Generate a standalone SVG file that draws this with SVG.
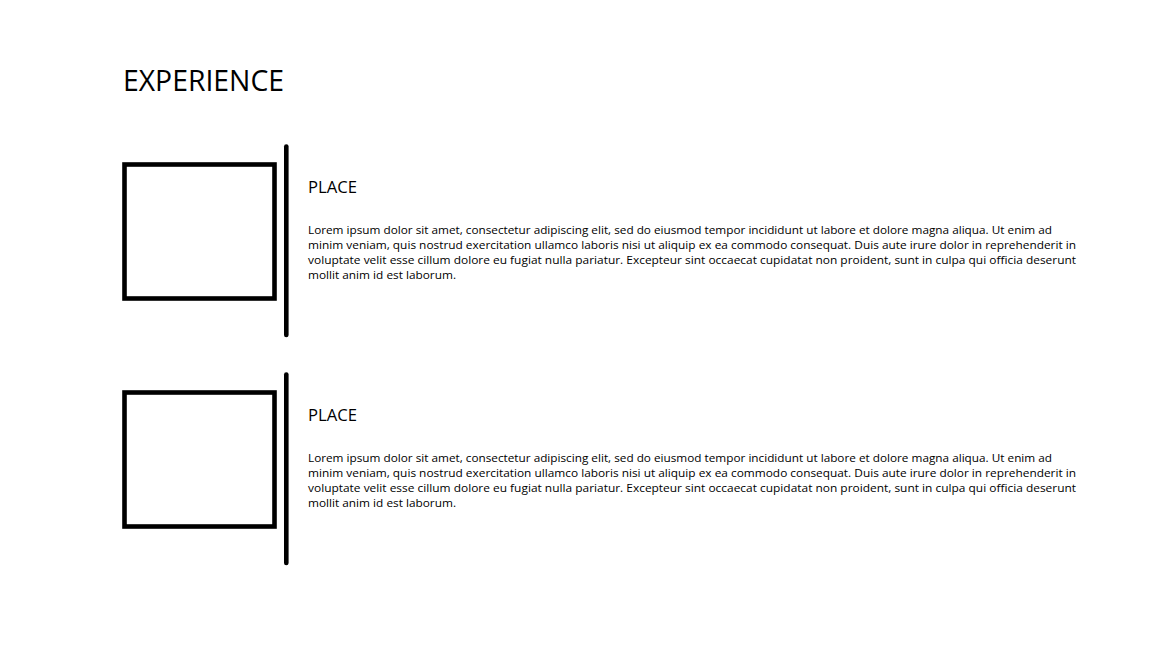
<svg xmlns="http://www.w3.org/2000/svg" width="1158" height="662" viewBox="0 0 1158 662">
<style>
.box{fill:none;stroke:#000;stroke-width:4.6}
.bar{stroke:#000;stroke-width:4.6;stroke-linecap:round}
.title{font-family:"Open Sans","Noto Sans",sans-serif;font-size:29.5px;fill:#000}
.place{font-family:"Open Sans","Noto Sans",sans-serif;font-size:16.8px;fill:#000}
.body{font-family:"Open Sans","Noto Sans",sans-serif;font-size:10.4px;fill:#000}
</style>
<rect width="1158" height="662" fill="#fff"/>
<text id="title" class="title" x="123" y="91" textLength="161" lengthAdjust="spacingAndGlyphs">EXPERIENCE</text>
<g id="entry1">
<rect class="box" x="124.5" y="164.5" width="150" height="134"/>
<text class="place" x="308" y="192.7" textLength="49" lengthAdjust="spacingAndGlyphs">PLACE</text>
<text class="body" x="308" y="233.7" textLength="744" lengthAdjust="spacingAndGlyphs">Lorem ipsum dolor sit amet, consectetur adipiscing elit, sed do eiusmod tempor incididunt ut labore et dolore magna aliqua. Ut enim ad</text>
<text class="body" x="308" y="248.7" textLength="768" lengthAdjust="spacingAndGlyphs">minim veniam, quis nostrud exercitation ullamco laboris nisi ut aliquip ex ea commodo consequat. Duis aute irure dolor in reprehenderit in</text>
<text class="body" x="308" y="263.7" textLength="768" lengthAdjust="spacingAndGlyphs">voluptate velit esse cillum dolore eu fugiat nulla pariatur. Excepteur sint occaecat cupidatat non proident, sunt in culpa qui officia deserunt</text>
<text class="body" x="308" y="278.7" textLength="148" lengthAdjust="spacingAndGlyphs">mollit anim id est laborum.</text>
</g>
<g id="entry2">
<rect class="box" x="124.5" y="392.5" width="150" height="134"/>
<text class="place" x="308" y="420.7" textLength="49" lengthAdjust="spacingAndGlyphs">PLACE</text>
<text class="body" x="308" y="461.7" textLength="744" lengthAdjust="spacingAndGlyphs">Lorem ipsum dolor sit amet, consectetur adipiscing elit, sed do eiusmod tempor incididunt ut labore et dolore magna aliqua. Ut enim ad</text>
<text class="body" x="308" y="476.7" textLength="768" lengthAdjust="spacingAndGlyphs">minim veniam, quis nostrud exercitation ullamco laboris nisi ut aliquip ex ea commodo consequat. Duis aute irure dolor in reprehenderit in</text>
<text class="body" x="308" y="491.7" textLength="768" lengthAdjust="spacingAndGlyphs">voluptate velit esse cillum dolore eu fugiat nulla pariatur. Excepteur sint occaecat cupidatat non proident, sunt in culpa qui officia deserunt</text>
<text class="body" x="308" y="506.7" textLength="148" lengthAdjust="spacingAndGlyphs">mollit anim id est laborum.</text>
</g>
<g id="connectors">
<line class="bar" x1="286.3" y1="146.5" x2="286.3" y2="335"/>
<line class="bar" x1="286.3" y1="374.5" x2="286.3" y2="563"/>
</g>
</svg>
